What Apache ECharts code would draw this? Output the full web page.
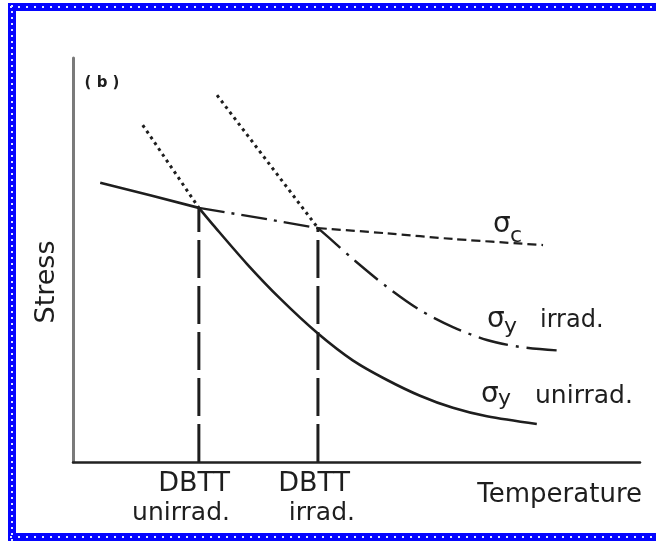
<!DOCTYPE html>
<html>
<head>
<meta charset="utf-8">
<script src="https://cdn.jsdelivr.net/npm/echarts/dist/echarts.min.js"></script>
<style>
html,body{margin:0;padding:0;background:#fff;}
#chart{width:656px;height:541px;}
</style>
</head>
<body>
<div id="chart"></div>
<script>
// ---- data (arbitrary units: temperature 0-100, stress 0-100) ----
const xRange = [0, 100];
const yRange = [0, 100];

const sigmaCSolid   = [[4.8, 69.1], [13.6, 66.0], [22.2, 62.9]];
const sigmaCDashDot = [[22.2, 62.9], [32.6, 60.5], [43.2, 57.9]];
const sigmaCDashed  = [[43.2, 57.9], [55.4, 56.6], [67.0, 55.2], [82.9, 53.7]];

const sigmaYUnirradDotted = [[12.3, 83.4], [22.2, 62.9]];
const sigmaYUnirrad = [[22.2, 62.9], [24.7, 58.7], [30.7, 49.0], [36.5, 40.5], [43.2, 31.8],
                       [49.4, 25.1], [55.4, 20.3], [61.2, 16.4], [67.0, 13.4], [73.0, 11.3], [81.8, 9.4]];

const sigmaYIrradDotted = [[25.4, 90.8], [43.2, 57.9]];
const sigmaYIrrad = [[43.2, 57.9], [46.6, 53.7], [49.4, 50.2], [55.4, 43.3], [61.2, 37.6],
                     [67.0, 33.4], [73.0, 30.2], [78.8, 28.5], [86.4, 27.5]];

const dbttValues = [22.2, 43.2];          // DBTT unirrad., DBTT irrad.
const dbttStress = [62.9, 57.9];
const dbttTop    = ['DBTT', 'DBTT'];
const dbttBottom = ['unirrad.', 'irrad.'];

const INK = '#1e1e1e';
const FONT = '"DejaVu Sans", sans-serif';

function lineSeries(data, type, width, smooth) {
  return {
    type: 'line', data: data, symbol: 'none', showSymbol: false,
    smooth: smooth ? 0.3 : false,
    lineStyle: { color: INK, width: width, type: type, cap: 'butt' },
    silent: true, z: 3
  };
}

const series = [
  lineSeries(sigmaCSolid, 'solid', 2.6, false),
  lineSeries(sigmaCDashDot, [26, 7, 3, 7], 2.4, false),
  lineSeries(sigmaCDashed, [9, 5], 2.2, true),
  lineSeries(sigmaYUnirradDotted, [3, 4], 3, false),
  lineSeries(sigmaYUnirrad, 'solid', 2.6, true),
  lineSeries(sigmaYIrradDotted, [3, 4], 3, false),
  lineSeries(sigmaYIrrad, [30, 8, 3, 8], 2.4, true)
];
dbttValues.forEach(function (x, i) {
  series.push(lineSeries([[x, 0], [x, dbttStress[i]]], [38, 8], 3, false));
});

function txt(text, x, y, size, align, extra) {
  const o = {
    type: 'text', x: x, y: y, z: 100,
    style: {
      text: text, font: (extra && extra.weight ? extra.weight + ' ' : '') + size + 'px ' + FONT,
      fill: INK, textAlign: align, textVerticalAlign: 'middle',
      align: align, verticalAlign: 'middle'
    }
  };
  if (extra && extra.rotation) o.rotation = extra.rotation;
  return o;
}

// blue dotted frame (left, top, bottom)
const BLUE = '#0505ff';
const frame = [
  { type: 'rect', shape: { x: 8, y: 3, width: 8, height: 538 }, style: { fill: BLUE }, z: 50 },
  { type: 'rect', shape: { x: 8, y: 3, width: 648, height: 8 }, style: { fill: BLUE }, z: 50 },
  { type: 'rect', shape: { x: 8, y: 533, width: 648, height: 8 }, style: { fill: BLUE }, z: 50 },
  { type: 'line', shape: { x1: 12, y1: 5, x2: 12, y2: 541 }, style: { stroke: '#dfe6ff', lineWidth: 2, lineDash: [2, 4] }, z: 51 },
  { type: 'line', shape: { x1: 10, y1: 7, x2: 656, y2: 7 }, style: { stroke: '#dfe6ff', lineWidth: 2, lineDash: [2, 6] }, z: 51 },
  { type: 'line', shape: { x1: 10, y1: 537, x2: 656, y2: 537 }, style: { stroke: '#dfe6ff', lineWidth: 2, lineDash: [2, 6] }, z: 51 }
];

const labels = [
  txt('( b )', 102, 83, 15, 'center', { weight: 'bold' }),
  txt('Stress', 47, 282, 27, 'center', { rotation: Math.PI / 2 }),
  // sigma_c
  txt('σ', 493, 225, 28, 'left'),
  txt('c', 510, 236, 22, 'left'),
  // sigma_y irrad.
  txt('σ', 487, 320, 28, 'left'),
  txt('y', 504, 327, 22, 'left'),
  txt('irrad.', 540, 321, 24, 'left'),
  // sigma_y unirrad.
  txt('σ', 481, 395, 28, 'left'),
  txt('y', 498, 399, 22, 'left'),
  txt('unirrad.', 535, 396, 25, 'left'),
  // DBTT tick labels
  txt(dbttTop[0], 230, 484, 27, 'right'),
  txt(dbttBottom[0], 230, 513, 25, 'right'),
  txt(dbttTop[1], 350, 484, 27, 'right'),
  txt(dbttBottom[1], 355, 513, 25, 'right'),
  txt('Temperature', 642, 495, 26, 'right')
];

const chart = echarts.init(document.getElementById('chart'), null, { renderer: 'canvas' });
chart.setOption({
  animation: false,
  backgroundColor: '#ffffff',
  grid: { left: 73, top: 58, width: 567, height: 404, containLabel: false },
  xAxis: {
    type: 'value', min: xRange[0], max: xRange[1],
    axisLine: { show: true, onZero: false, lineStyle: { color: '#222', width: 2.5 } },
    axisTick: { show: false }, axisLabel: { show: false }, splitLine: { show: false }
  },
  yAxis: {
    type: 'value', min: yRange[0], max: yRange[1],
    axisLine: { show: true, onZero: false, lineStyle: { color: '#7a7a7a', width: 3 } },
    axisTick: { show: false }, axisLabel: { show: false }, splitLine: { show: false }
  },
  series: series,
  graphic: { elements: frame.concat(labels) }
});
</script>
</body>
</html>
